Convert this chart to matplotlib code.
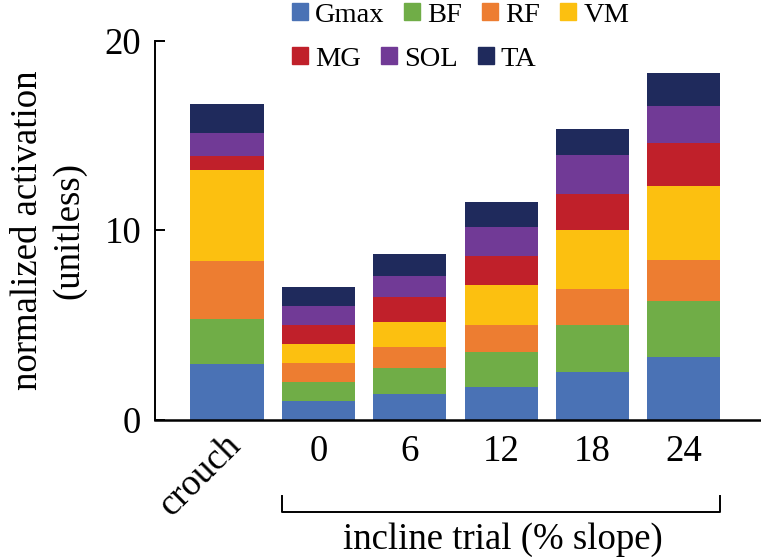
import matplotlib
matplotlib.use("Agg")
import matplotlib.pyplot as plt
from matplotlib.patches import Patch
import numpy as np

# Values (normalized activation, unitless)
conditions = ["crouch", "0", "6", "12", "18", "24"]
muscles = ["Gmax", "BF", "RF", "VM", "MG", "SOL", "TA"]
gmax = [2.93, 1.00, 1.36, 1.72, 2.51, 3.32]
bf = [2.38, 1.00, 1.37, 1.83, 2.50, 2.94]
rf = [3.04, 1.00, 1.11, 1.46, 1.90, 2.18]
vm = [4.84, 1.00, 1.31, 2.08, 3.08, 3.89]
mg = [0.72, 1.00, 1.32, 1.54, 1.91, 2.27]
sol = [1.23, 1.00, 1.10, 1.52, 2.06, 1.97]
ta = [1.50, 1.00, 1.17, 1.33, 1.38, 1.71]

colors = ["#4a72b5", "#70ad47", "#ed7d31", "#fcc010",
          "#c0202a", "#713a96", "#1f2a5c"]

plt.rcParams["font.family"] = ["Liberation Serif", "DejaVu Serif"]

fig = plt.figure(figsize=(7.61, 5.57), dpi=100)
W, H = 761, 557
ax = fig.add_axes([155 / W, (H - 419.5) / H, (W - 155) / W, (419.5 - 40.7) / H])

x = np.arange(len(conditions))
bottom = np.zeros(len(conditions))
for name, vals, c in zip(muscles, [gmax, bf, rf, vm, mg, sol, ta], colors):
    ax.bar(x, vals, width=0.8, bottom=bottom, color=c, label=name)
    bottom += np.array(vals)

ax.set_xlim(-0.788, 5.845)
ax.set_ylim(0, 20)
ax.set_yticks([0, 10, 20])
ax.tick_params(axis="y", direction="in", length=7, width=1.4, labelsize=26.5, pad=10)
ax.set_xticks(x)
ax.set_xticklabels([""] + conditions[1:])
ax.tick_params(axis="x", length=0, labelsize=26.5, pad=10.5)

for s in ["top", "right"]:
    ax.spines[s].set_visible(False)
ax.spines["left"].set_linewidth(1.4)
ax.spines["bottom"].set_linewidth(1.8)

# rotated "crouch" label
ax.text(-0.04, -0.45, conditions[0], rotation=45, ha="right", va="top",
        rotation_mode="anchor", fontsize=26.5)

# bracket under the incline trials
y0, y1 = -4.88, -4.04
ax.plot([0.6, 0.6, 5.4, 5.4], [y1, y0, y0, y1], color="black", lw=1.4,
        clip_on=False)

ax.set_xlabel("incline trial (% slope)", fontsize=26.5)
ax.xaxis.set_label_coords((502.5 - 155) / 606, -0.272)

ax.set_ylabel("normalized activation\n(unitless)", fontsize=26.5, linespacing=1.25)
ax.yaxis.set_label_coords(-0.113, 0.5)

# legend in two free-flowing rows
handles = [Patch(color=c) for c in colors]
kw = dict(frameon=False, fontsize=20.5, handlelength=0.56, handleheight=0.56,
          handletextpad=0.25, columnspacing=0.7, borderpad=0, borderaxespad=0,
          loc="center left")
fig.legend(handles[:4], muscles[:4], ncol=4,
           bbox_to_anchor=(292 / W, 1 - 15 / H), **kw)
fig.legend(handles[4:], muscles[4:], ncol=3,
           bbox_to_anchor=(292 / W, 1 - 59 / H), **kw)

fig.savefig("out.png", dpi=100)
